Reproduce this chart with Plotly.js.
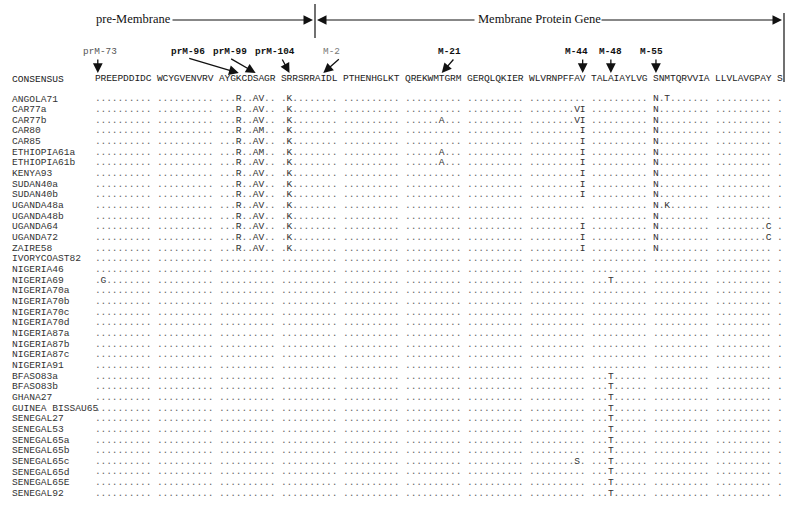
<!DOCTYPE html>
<html><head><meta charset="utf-8">
<script src="https://cdn.plot.ly/plotly-3.0.1.min.js"></script>
<style>html,body{margin:0;padding:0;background:#fff}#chart{width:800px;height:512px}</style>
</head><body><div id="chart"></div>
<script>
// ---------------- DATA ----------------
const consensusLabel = "CONSENSUS";
const consensus = "PREEPDDIDC WCYGVENVRV AYGKCDSAGR SRRSRRAIDL PTHENHGLKT QREKWMTGRM GERQLQKIER WLVRNPFFAV TALAIAYLVG SNMTQRVVIA LLVLAVGPAY S";

const strains = ["ANGOLA71","CAR77a","CAR77b","CAR80","CAR85","ETHIOPIA61a","ETHIOPIA61b","KENYA93",
  "SUDAN40a","SUDAN40b","UGANDA48a","UGANDA48b","UGANDA64","UGANDA72","ZAIRE58","IVORYCOAST82",
  "NIGERIA46","NIGERIA69","NIGERIA70a","NIGERIA70b","NIGERIA70c","NIGERIA70d","NIGERIA87a","NIGERIA87b",
  "NIGERIA87c","NIGERIA91","BFASO83a","BFASO83b","GHANA27","GUINEA BISSAU65","SENEGAL27","SENEGAL53",
  "SENEGAL65a","SENEGAL65b","SENEGAL65c","SENEGAL65d","SENEGAL65E","SENEGAL92"];

const alignments = [
  ".......... .......... ...R..AV.. .K........ .......... .......... .......... .......... .......... N.T....... .......... .",
  ".......... .......... ...R..AV.. .K........ .......... .......... .......... ........VI .......... N......... .......... .",
  ".......... .......... ...R..AV.. .K........ .......... ......A... .......... ........VI .......... N......... .......... .",
  ".......... .......... ...R..AM.. .K........ .......... .......... .......... .........I .......... N......... .......... .",
  ".......... .......... ...R..AV.. .K........ .......... .......... .......... .........I .......... N......... .......... .",
  ".......... .......... ...R..AM.. .K........ .......... ......A... .......... .........I .......... N......... .......... .",
  ".......... .......... ...R..AV.. .K........ .......... ......A... .......... .........I .......... N......... .......... .",
  ".......... .......... ...R..AV.. .K........ .......... .......... .......... .........I .......... N......... .......... .",
  ".......... .......... ...R..AV.. .K........ .......... .......... .......... .........I .......... N......... .......... .",
  ".......... .......... ...R..AV.. .K........ .......... .......... .......... .........I .......... N......... .......... .",
  ".......... .......... ...R..AV.. .K........ .......... .......... .......... .......... .......... N.K....... .......... .",
  ".......... .......... ...R..AV.. .K........ .......... .......... .......... .......... .......... N......... .......... .",
  ".......... .......... ...R..AV.. .K........ .......... .......... .......... .........I .......... N......... .........C .",
  ".......... .......... ...R..AV.. .K........ .......... .......... .......... .........I .......... N......... .........C .",
  ".......... .......... ...R..AV.. .K........ .......... .......... .......... .........I .......... N......... .......... .",
  ".......... .......... .......... .......... .......... .......... .......... .......... .......... .......... .......... .",
  ".......... .......... .......... .......... .......... .......... .......... .......... .......... .......... .......... .",
  ".G........ .......... .......... .......... .......... .......... .......... .......... ...T...... .......... .......... .",
  ".......... .......... .......... .......... .......... .......... .......... .......... .......... .......... .......... .",
  ".......... .......... .......... .......... .......... .......... .......... .......... .......... .......... .......... .",
  ".......... .......... .......... .......... .......... .......... .......... .......... .......... .......... .......... .",
  ".......... .......... .......... .......... .......... .......... .......... .......... .......... .......... .......... .",
  ".......... .......... .......... .......... .......... .......... .......... .......... .......... .......... .......... .",
  ".......... .......... .......... .......... .......... .......... .......... .......... .......... .......... .......... .",
  ".......... .......... .......... .......... .......... .......... .......... .......... .......... .......... .......... .",
  ".......... .......... .......... .......... .......... .......... .......... .......... .......... .......... .......... .",
  ".......... .......... .......... .......... .......... .......... .......... .......... ...T...... .......... .......... .",
  ".......... .......... .......... .......... .......... .......... .......... .......... ...T...... .......... .......... .",
  ".......... .......... .......... .......... .......... .......... .......... .......... ...T...... .......... .......... .",
  ".......... .......... .......... .......... .......... .......... .......... .......... ...T...... .......... .......... .",
  ".......... .......... .......... .......... .......... .......... .......... .......... ...T...... .......... .......... .",
  ".......... .......... .......... .......... .......... .......... .......... .......... ...T...... .......... .......... .",
  ".......... .......... .......... .......... .......... .......... .......... .......... ...T...... .......... .......... .",
  ".......... .......... .......... .......... .......... .......... .......... .......... ...T...... .......... .......... .",
  ".......... .......... .......... .......... .......... .......... .......... ........S. ...T...... .......... .......... .",
  ".......... .......... .......... .......... .......... .......... .......... .......... ...T...... .......... .......... .",
  ".......... .......... .......... .......... .......... .......... .......... .......... ...T...... .......... .......... .",
  ".......... .......... .......... .......... .......... .......... .......... .......... ...T...... .......... .......... ."
];

const mutationLabels = ["prM-73","prM-96","prM-99","prM-104","M-2","M-21","M-44","M-48","M-55"];
const mutationColumns = [1, 24, 27, 32, 38, 57, 80, 84, 91];

const regionLabels = ["pre-Membrane", "Membrane Protein Gene"];

// ---------------- LAYOUT / STYLE ----------------
const X0 = 97.8, CH = 5.638;          // first column centre, character pitch
const ROW0 = 99, ROWH = 10.66, CONS_Y = 79;
const LABEL_X = 10;
const MONO = "Liberation Mono, Courier New, monospace";
const SERIF = "Liberation Serif, Times New Roman, serif";
const FS = 9.6;

const kx = k => X0 + k * CH;
const colX = col => kx((col - 1) + Math.floor((col - 1) / 10));
const rowY = i => ROW0 + i * ROWH;

// mutation label styling (bold / colour) and arrow geometry offsets (px)
const mutBold   = [false, true, true, true, false, true, true, true, true];
const mutColor  = ["#555", "#111", "#111", "#111", "#777", "#111", "#111", "#111", "#111"];
const mutLabelDx = [2, -51, -26, -14, 8, 8, -6, 0, -4];
const mutTailDx  = [0, -51, -26, -8, 17, 13, 0, 0, 0];
const LAB_Y = 51, TAIL_Y = 58, TIP_Y = 73;

// ---------------- BUILD TRACES ----------------
const xs = [], ys = [], ts = [], cs = [];
function addRow(str, y, letterColor, dotColor) {
  for (let k = 0; k < str.length; k++) {
    const c = str[k];
    if (c === ' ') continue;
    xs.push(kx(k)); ys.push(y); ts.push(c);
    cs.push(c === '.' ? dotColor : letterColor);
  }
}
addRow(consensus, CONS_Y, "#222", "#222");
alignments.forEach((s, i) => addRow(s, rowY(i), "#333", "#666"));

const seqTrace = {
  type: "scatter", mode: "text", x: xs, y: ys, text: ts,
  textposition: "middle center",
  textfont: { family: MONO, size: FS, color: cs },
  hoverinfo: "skip", showlegend: false, cliponaxis: false
};

const annotations = [];
// row names
annotations.push({ x: LABEL_X, y: CONS_Y, xref: "x", yref: "y", text: consensusLabel, showarrow: false,
  xanchor: "left", yanchor: "middle", font: { family: MONO, size: FS, color: "#222" } });
strains.forEach((s, i) => annotations.push({ x: LABEL_X, y: rowY(i), xref: "x", yref: "y", text: s,
  showarrow: false, xanchor: "left", yanchor: "middle", font: { family: MONO, size: FS, color: "#333" } }));

// mutation labels + arrows
mutationLabels.forEach((lab, j) => {
  const tx = colX(mutationColumns[j]);
  annotations.push({ x: tx + mutLabelDx[j], y: LAB_Y, xref: "x", yref: "y",
    text: mutBold[j] ? "<b>" + lab + "</b>" : lab, showarrow: false,
    xanchor: "center", yanchor: "middle", font: { family: MONO, size: 9.4, color: mutColor[j] } });
  annotations.push({ x: tx, y: TIP_Y, xref: "x", yref: "y", ax: tx + mutTailDx[j], ay: TAIL_Y,
    axref: "x", ayref: "y", text: "", showarrow: true, arrowhead: 2, arrowsize: 1.5,
    arrowwidth: 1.3, arrowcolor: "#111", standoff: 0, startstandoff: 0 });
});

// region header
annotations.push({ x: 133, y: 19, xref: "x", yref: "y", text: regionLabels[0], showarrow: false,
  xanchor: "center", yanchor: "middle", font: { family: SERIF, size: 12.5, color: "#111" } });
annotations.push({ x: 539, y: 19, xref: "x", yref: "y", text: regionLabels[1], showarrow: false,
  xanchor: "center", yanchor: "middle", font: { family: SERIF, size: 12.5, color: "#111" } });
const hdrArrow = (x, ax) => ({ x: x, y: 20, ax: ax, ay: 20, xref: "x", yref: "y", axref: "x", ayref: "y",
  text: "", showarrow: true, arrowhead: 2, arrowsize: 1.9, arrowwidth: 1, arrowcolor: "#111",
  standoff: 0, startstandoff: 0 });
annotations.push(hdrArrow(313, 171));
annotations.push(hdrArrow(317, 476));
annotations.push(hdrArrow(782, 600));

const shapes = [
  { type: "line", xref: "x", yref: "y", x0: 315, x1: 315, y0: 4, y1: 38, line: { color: "#111", width: 1.2 } },
  { type: "line", xref: "x", yref: "y", x0: 784, x1: 784, y0: 13, y1: 82, line: { color: "#111", width: 1.2 } }
];

const layout = {
  width: 800, height: 512,
  margin: { l: 0, r: 0, t: 0, b: 0, pad: 0 },
  paper_bgcolor: "#fff", plot_bgcolor: "#fff",
  xaxis: { range: [0, 800], visible: false, fixedrange: true },
  yaxis: { range: [512, 0], visible: false, fixedrange: true },
  showlegend: false,
  annotations: annotations,
  shapes: shapes
};

Plotly.newPlot("chart", [seqTrace], layout, { staticPlot: true, displayModeBar: false });
</script>
</body></html>
